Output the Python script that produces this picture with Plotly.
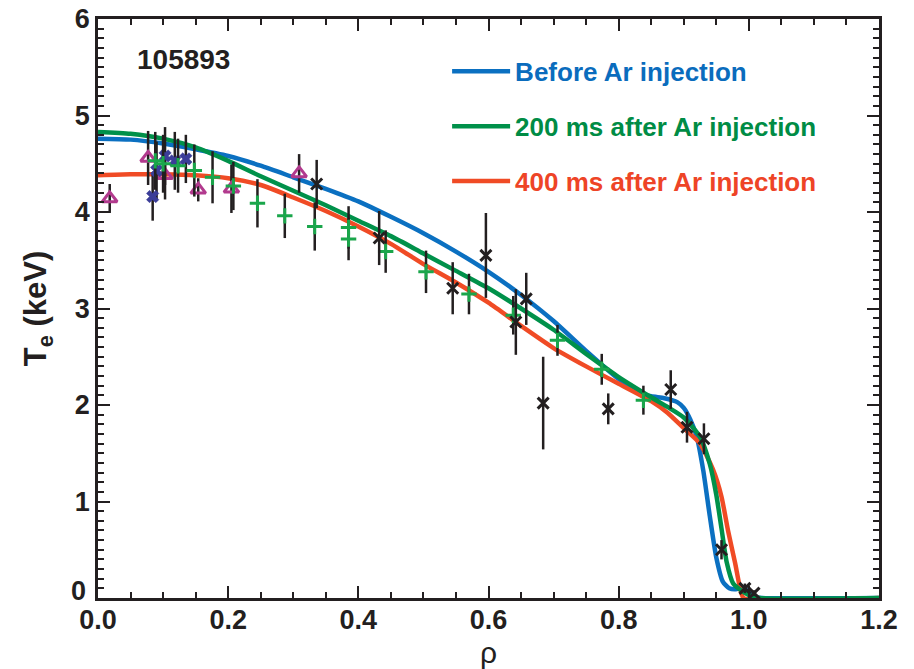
import plotly.graph_objects as go

# ---- fitted profiles ----
rho_before = [0.00, 0.05, 0.10, 0.15, 0.20, 0.25, 0.30, 0.35, 0.40, 0.45, 0.50, 0.55, 0.60, 0.65, 0.70,
              0.75, 0.80, 0.83, 0.85, 0.87, 0.89, 0.90, 0.91, 0.92, 0.93, 0.94, 0.95, 0.96, 0.97,
              0.98, 0.99, 1.00, 1.01, 1.02, 1.20]
te_before = [4.76, 4.75, 4.71, 4.65, 4.58, 4.48, 4.36, 4.24, 4.11, 3.95, 3.78, 3.59, 3.38, 3.14, 2.87,
             2.56, 2.27, 2.13, 2.09, 2.07, 2.03, 1.97, 1.85, 1.67, 1.32, 0.85, 0.42, 0.17, 0.10,
             0.09, 0.11, 0.06, 0.01, 0.0, 0.0]

rho_200 = [0.00, 0.05, 0.10, 0.15, 0.20, 0.25, 0.30, 0.35, 0.40, 0.45, 0.50, 0.55, 0.60, 0.65, 0.70,
           0.75, 0.80, 0.85, 0.875, 0.90, 0.925, 0.94, 0.95, 0.958, 0.966, 0.976, 0.99, 1.00, 1.017, 1.20]
te_200 = [4.83, 4.81, 4.76, 4.67, 4.53, 4.37, 4.22, 4.07, 3.91, 3.75, 3.57, 3.39, 3.21, 3.00, 2.78,
          2.53, 2.29, 2.08, 1.98, 1.87, 1.67, 1.39, 1.07, 0.72, 0.37, 0.15, 0.07, 0.03, 0.0, 0.0]

rho_400 = [0.00, 0.05, 0.10, 0.15, 0.20, 0.25, 0.30, 0.35, 0.40, 0.45, 0.50, 0.55, 0.60, 0.65, 0.70,
           0.75, 0.80, 0.85, 0.875, 0.90, 0.925, 0.945, 0.958, 0.968, 0.979, 0.986, 0.992, 1.20]
te_400 = [4.38, 4.39, 4.39, 4.38, 4.35, 4.28, 4.15, 4.01, 3.85, 3.67, 3.46, 3.27, 3.06, 2.82, 2.59,
          2.40, 2.22, 2.04, 1.92, 1.76, 1.60, 1.33, 1.05, 0.70, 0.36, 0.12, 0.0, 0.0]

# ---- measurements ----
tri_rho = [0.018, 0.077, 0.103, 0.154, 0.205, 0.309]
tri_te = [4.14, 4.56, 4.38, 4.23, 4.24, 4.40]
tri_err = [0.15, 0.28, 0.25, 0.12, 0.25, 0.20]

bx_rho = [0.084, 0.090, 0.103, 0.118, 0.135]
bx_te = [4.16, 4.43, 4.58, 4.53, 4.55]
bx_err = [0.25, 0.30, 0.30, 0.30, 0.25]

gp_rho = [0.088, 0.100, 0.123, 0.148, 0.176, 0.208, 0.245, 0.287, 0.333, 0.385, 0.385, 0.442,
          0.504, 0.570, 0.638, 0.706, 0.774, 0.838]
gp_te = [4.53, 4.50, 4.48, 4.43, 4.36, 4.27, 4.09, 3.96, 3.85, 3.84, 3.72, 3.59,
         3.38, 3.15, 2.93, 2.67, 2.37, 2.05]
gp_err = [0.30, 0.30, 0.28, 0.27, 0.27, 0.25, 0.25, 0.23, 0.25, 0.22, 0.22, 0.22,
          0.22, 0.21, 0.20, 0.16, 0.16, 0.15]

kx_rho = [0.336, 0.432, 0.545, 0.596, 0.642, 0.658, 0.684, 0.784, 0.880, 0.905, 0.931, 0.958, 0.994, 1.008]
kx_te = [4.29, 3.73, 3.21, 3.55, 2.86, 3.10, 2.02, 1.96, 2.16, 1.77, 1.65, 0.50, 0.10, 0.05]
kx_err = [0.25, 0.28, 0.27, 0.44, 0.34, 0.27, 0.48, 0.16, 0.20, 0.16, 0.16, 0.10, 0.05, 0.03]

y_tickvals = [1, 2, 3, 4, 5, 6]
shot_label = "105893"
names = ["Before Ar injection", "200 ms after Ar injection", "400 ms after Ar injection"]

BLUE, GREEN, RED = "#0b70c1", "#00914a", "#f04b25"
BLUE_T, GREEN_T, RED_T = "#0a6cbd", "#008c45", "#ee4426"
INK = "#231f20"

fig = go.Figure()

err_style = dict(type="data", thickness=2.5, width=0, color=INK)
lw = 4.5

fig.add_trace(go.Scatter(x=rho_before, y=te_before, mode="lines",
                         line=dict(color=BLUE, width=lw, shape="spline", smoothing=0.6),
                         name=f"<span style='color:{BLUE_T}'>{names[0]}</span>", legendgroup="a",
                         legendrank=1))
fig.add_trace(go.Scatter(x=rho_400, y=te_400, mode="lines",
                         line=dict(color=RED, width=lw, shape="spline", smoothing=0.6),
                         name=f"<span style='color:{RED_T}'>{names[2]}</span>", legendgroup="c",
                         legendrank=3))
fig.add_trace(go.Scatter(x=rho_200, y=te_200, mode="lines",
                         line=dict(color=GREEN, width=lw, shape="spline", smoothing=0.6),
                         name=f"<span style='color:{GREEN_T}'>{names[1]}</span>", legendgroup="b",
                         legendrank=2))

fig.add_trace(go.Scatter(x=tri_rho, y=tri_te, mode="markers", showlegend=False,
                         error_y=dict(array=tri_err, **err_style),
                         marker=dict(symbol="triangle-up-open", size=13, color="#b23a8e",
                                     line=dict(color="#b23a8e", width=3))))
fig.add_trace(go.Scatter(x=bx_rho, y=bx_te, mode="markers", showlegend=False,
                         error_y=dict(array=bx_err, **err_style),
                         marker=dict(symbol="x", size=11, color="#3b3d98",
                                     line=dict(color="#3b3d98", width=0.5))))
fig.add_trace(go.Scatter(x=gp_rho, y=gp_te, mode="markers", showlegend=False,
                         error_y=dict(array=gp_err, **err_style),
                         marker=dict(symbol="cross-thin", size=11, color="#1aa64b",
                                     line=dict(color="#1aa64b", width=3))))
fig.add_trace(go.Scatter(x=kx_rho, y=kx_te, mode="markers", showlegend=False,
                         error_y=dict(array=kx_err, **err_style),
                         marker=dict(symbol="x-thin", size=11, color=INK,
                                     line=dict(color=INK, width=3))))

tick_font = dict(family="Liberation Sans, Arial", size=27, color=INK, weight="bold")

fig.update_layout(
    width=914, height=669,
    margin=dict(l=98, r=35, t=19, b=71),
    paper_bgcolor="white", plot_bgcolor="white",
    showlegend=True,
    legend=dict(x=0.447, y=0.95, xanchor="left", yanchor="top", itemwidth=58,
                font=dict(family="Liberation Sans, Arial", size=26, weight="bold"),
                tracegroupgap=18, bgcolor="rgba(0,0,0,0)"),
    annotations=[
        dict(text=shot_label, xref="paper", yref="paper", x=0.048, y=0.93,
             xanchor="left", yanchor="middle", showarrow=False,
             font=dict(family="Liberation Sans, Arial", size=28, color=INK, weight="bold")),
        dict(text="0", xref="paper", yref="y", x=0, y=0, xanchor="right", yanchor="middle",
             xshift=-10, yshift=7, showarrow=False, font=tick_font),
    ],
)

fig.update_xaxes(range=[0, 1.2], dtick=0.2, tick0=0, tickformat=".1f", automargin=False,
                 showline=True, linecolor=INK, linewidth=2.5, mirror="allticks",
                 ticks="inside", ticklen=12, tickwidth=2, tickcolor=INK,
                 minor=dict(dtick=0.05, ticks="inside", ticklen=6, tickwidth=2, tickcolor=INK),
                 showgrid=False, zeroline=False, tickfont=tick_font, ticklabelstandoff=-4,
                 title=dict(text="ρ", font=dict(family="Liberation Sans, Arial", size=30, color=INK),
                            standoff=8))
fig.update_yaxes(range=[0, 6], tickvals=y_tickvals, automargin=False,
                 showline=True, linecolor=INK, linewidth=2.5, mirror="allticks",
                 ticks="inside", ticklen=12, tickwidth=2, tickcolor=INK,
                 minor=dict(dtick=0.1, tick0=0, ticks="inside", ticklen=6, tickwidth=2, tickcolor=INK),
                 showgrid=False, zeroline=False, tickfont=tick_font,
                 title=dict(text="T<sub>e</sub> (keV)",
                            font=dict(family="Liberation Sans, Arial", size=31, color=INK, weight="bold"),
                            standoff=19))

fig.write_html("out.html")
